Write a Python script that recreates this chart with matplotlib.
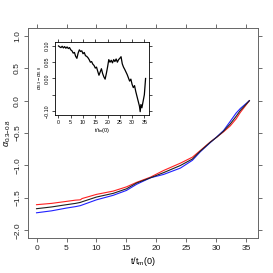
import matplotlib
matplotlib.use('Agg')
import matplotlib.pyplot as plt

plt.rcParams['font.family'] = ['Liberation Sans', 'DejaVu Sans']
plt.rcParams['mathtext.fontset'] = 'custom'
plt.rcParams['mathtext.rm'] = 'Liberation Sans'
plt.rcParams['mathtext.it'] = 'Liberation Sans:italic'

# main panel: three curves against t/t_m(0)
t_main = [0, 2.5, 5, 6.5, 7.3, 7.6, 10, 12.8, 15, 16.7, 19, 21.2, 24, 26, 27.3,
          29, 30.1, 31.2, 32.3, 33.3, 34, 35.5]
red = [-1.605, -1.585, -1.554, -1.535, -1.53, -1.51, -1.446, -1.395, -1.33, -1.26,
       -1.18, -1.077, -0.964, -0.872, -0.77, -0.635, -0.56, -0.48, -0.39, -0.28,
       -0.18, 0.0]
black = [-1.667, -1.64, -1.605, -1.585, -1.57, -1.56, -1.487, -1.43, -1.36, -1.27,
         -1.19, -1.11, -1.0, -0.9, -0.78, -0.64, -0.56, -0.47, -0.36, -0.24,
         -0.15, 0.0]
blue = [-1.73, -1.70, -1.657, -1.635, -1.62, -1.61, -1.53, -1.46, -1.385, -1.29,
        -1.19, -1.138, -1.04, -0.92, -0.79, -0.645, -0.555, -0.46, -0.32, -0.19,
        -0.12, 0.0]

# inset: difference alpha_0.3 - alpha_0.8
t_diff = [0, 0.5, 1, 1.5, 2, 2.5, 3, 3.5, 4, 4.5, 5, 5.5, 6, 6.5, 7, 7.5, 8, 8.5,
          9, 9.5, 10, 10.5, 11, 11.5, 12, 12.5, 13, 13.5, 14, 14.5, 15, 15.5, 16,
          16.5, 17, 17.5, 18, 18.5, 19, 19.5, 20, 20.5, 21, 21.5, 22, 22.5, 23,
          23.5, 24, 24.5, 25, 25.5, 26, 26.5, 27, 27.5, 28, 28.5, 29, 29.5, 30,
          30.5, 31, 31.5, 32, 32.5, 33, 33.3, 33.6, 34, 34.5, 35, 35.5]
diff = [0.100, 0.097, 0.095, 0.099, 0.094, 0.098, 0.093, 0.097, 0.092, 0.095,
        0.088, 0.085, 0.078, 0.080, 0.068, 0.062, 0.078, 0.088, 0.083, 0.085,
        0.076, 0.080, 0.070, 0.068, 0.064, 0.058, 0.050, 0.052, 0.044, 0.040,
        0.032, 0.035, 0.022, 0.010, 0.020, 0.030, 0.015, 0.005, -0.002, 0.015,
        0.035, 0.058, 0.050, 0.056, 0.048, 0.058, 0.052, 0.060, 0.050, 0.058,
        0.062, 0.067, 0.045, 0.035, 0.028, 0.020, 0.012, 0.002, -0.008, -0.002,
        -0.018, -0.028, -0.022, -0.040, -0.055, -0.070, -0.085, -0.102, -0.080,
        -0.090, -0.070, -0.050, 0.000]

fig = plt.figure(figsize=(2.73, 2.73), dpi=100)
ax = fig.add_axes([0.1026, 0.128, 0.842, 0.769])
ax.plot(t_main, red, color='#ff2020', lw=0.8)
ax.plot(t_main, blue, color='#2020ff', lw=0.8)
ax.plot(t_main, black, color='#202020', lw=0.8)
ax.set_xlim(-1.42, 36.92)
ax.set_ylim(-2.12, 1.12)
ax.set_xticks([0, 5, 10, 15, 20, 25, 30, 35])
ax.set_yticks([-2.0, -1.5, -1.0, -0.5, 0.0, 0.5, 1.0])
ax.set_yticklabels(['\u22122.0', '\u22121.5', '\u22121.0', '\u22120.5', '0.0', '0.5', '1.0'],
                   rotation=90, va='center')
ax.tick_params(direction='out', length=3, width=0.6, labelsize=6, pad=2,
               top=True, right=True, colors='#555555', labelcolor='#222222')
for s in ax.spines.values():
    s.set_color('#666666')
    s.set_linewidth(0.7)
ax.set_xlabel(r't/t$_\mathrm{m}$(0)', fontsize=6.5, labelpad=2)
ax.set_ylabel(r'$\alpha_{0.3\mathrm{-}0.8}$', fontsize=6.5, labelpad=1)

ins = fig.add_axes([0.2015, 0.579, 0.3445, 0.267])
ins.plot(t_diff, diff, color='black', lw=0.9)
ins.set_xlim(-1.42, 36.92)
ins.set_ylim(-0.112, 0.112)
ins.set_xticks([0, 5, 10, 15, 20, 25, 30, 35])
ins.set_yticks([-0.10, -0.05, 0.00, 0.05, 0.10])
ins.set_yticklabels(['\u22120.10', '', '0.00', '0.05', '0.10'], rotation=90, va='center')
ins.tick_params(direction='out', length=2, width=0.5, labelsize=3.8, pad=1.5,
                top=True, right=True)
for s in ins.spines.values():
    s.set_linewidth(0.6)
ins.set_xlabel(r't/t$_\mathrm{m}$(0)', fontsize=4, labelpad=1)
ins.set_ylabel(r'$\alpha_{0.3}-\alpha_{0.8}$', fontsize=4, labelpad=1)

fig.savefig('out.png', dpi=100)
